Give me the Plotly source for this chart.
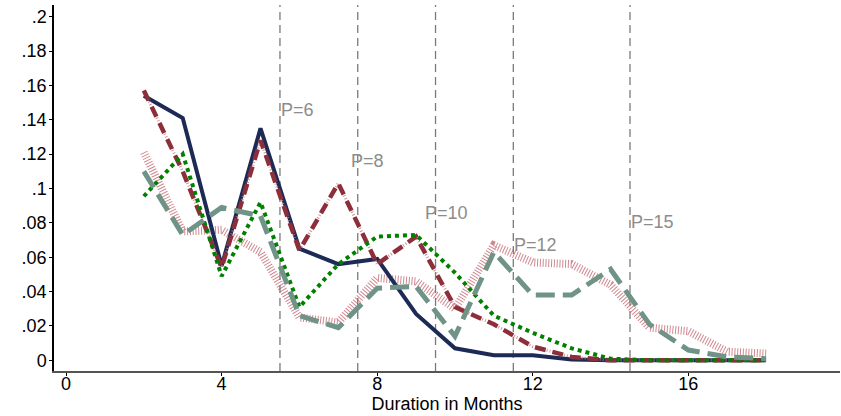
import plotly.graph_objects as go

# Months since start
months = list(range(2, 19))

# Hazard shares by program length P
p6 = [0.154, 0.141, 0.055, 0.135, 0.065, 0.056, 0.059, 0.027, 0.007, 0.003, 0.003, 0.0005, 0, 0, 0, 0, 0]
p8 = [0.157, 0.110, 0.054, 0.128, 0.064, 0.103, 0.056, 0.072, 0.031, 0.021, 0.008, 0.002, 0, 0, 0, 0, 0]
p10 = [0.0955, 0.120, 0.049, 0.092, 0.031, 0.056, 0.072, 0.073, 0.051, 0.026, 0.016, 0.007, 0.001, 0, 0, 0, 0]
p12 = [0.110, 0.073, 0.089, 0.084, 0.026, 0.019, 0.042, 0.043, 0.014, 0.063, 0.038, 0.038, 0.053, 0.021, 0.006, 0.002, 0.001]
p15 = [0.121, 0.075, 0.076, 0.063, 0.025, 0.022, 0.048, 0.046, 0.030, 0.067, 0.057, 0.056, 0.044, 0.019, 0.017, 0.005, 0.004]

# Reference lines (program end) and their labels
ref_x = [5.5, 7.5, 9.5, 11.5, 14.5]
label_text = ["P=6", "P=8", "P=10", "P=12", "P=15"]
label_x = [5.5, 7.3, 9.2, 11.5, 14.5]
label_y = [0.1455, 0.116, 0.0855, 0.067, 0.0805]

y_ticks = [0, 0.02, 0.04, 0.06, 0.08, 0.10, 0.12, 0.14, 0.16, 0.18, 0.20]
y_ticktext = ["0", ".02", ".04", ".06", ".08", ".1", ".12", ".14", ".16", ".18", ".2"]
x_ticks = [0, 4, 8, 12, 16]

fig = go.Figure()

# P=15: thick hatched pink
fig.add_trace(go.Scatter(x=months, y=p15, mode="lines",
                         line=dict(color="rgba(185,85,95,0.7)", width=8, dash="1px,1.8px")))
# P=6: solid navy
fig.add_trace(go.Scatter(x=months, y=p6, mode="lines",
                         line=dict(color="#1c2a55", width=4)))
# P=8: cranberry dashes over a faint hatched underlay
fig.add_trace(go.Scatter(x=months, y=p8, mode="lines",
                         line=dict(color="rgba(200,120,130,0.8)", width=3, dash="1px,2px")))
fig.add_trace(go.Scatter(x=months, y=p8, mode="lines",
                         line=dict(color="#8c2f3b", width=4.5, dash="11px,7px")))
# P=10: green dots
fig.add_trace(go.Scatter(x=months, y=p10, mode="lines",
                         line=dict(color="#008000", width=4, dash="4px,4px")))
# P=12: gray-green long dashes
fig.add_trace(go.Scatter(x=months, y=p12, mode="lines",
                         line=dict(color="#6f9487", width=5, dash="19px,8px")))

for xv in ref_x:
    fig.add_shape(type="line", xref="x", yref="paper", x0=xv, x1=xv, y0=0, y1=1,
                  line=dict(color="#7a7a7a", width=1.3, dash="8px,5px"), layer="below")

for t, xv, yv in zip(label_text, label_x, label_y):
    fig.add_annotation(x=xv, y=yv, text=t, showarrow=False, xanchor="left", yanchor="middle",
                       xshift=-1, font=dict(size=18, color="#8c8c8c"))

fig.update_layout(
    width=841, height=416,
    margin=dict(l=54, r=1, t=5, b=45),
    plot_bgcolor="white", paper_bgcolor="white",
    font=dict(family="Liberation Sans, Arial, sans-serif", size=18, color="black"),
    showlegend=False,
)
fig.update_xaxes(range=[-0.31, 19.9], tickvals=x_ticks, ticks="outside", ticklen=3,
                 tickcolor="black", showline=True, linecolor="#555555", linewidth=1.5,
                 showgrid=False, zeroline=False, ticklabelstandoff=-7,
                 title=dict(text="Duration in Months", font=dict(size=18), standoff=0))
fig.update_yaxes(range=[-0.0062, 0.2068], tickvals=y_ticks, ticktext=y_ticktext,
                 ticks="outside", ticklen=3, tickcolor="black", showline=True,
                 linecolor="black", linewidth=1.5, showgrid=False, zeroline=False,
                 ticklabelstandoff=-1)

fig.write_html("out.html")
